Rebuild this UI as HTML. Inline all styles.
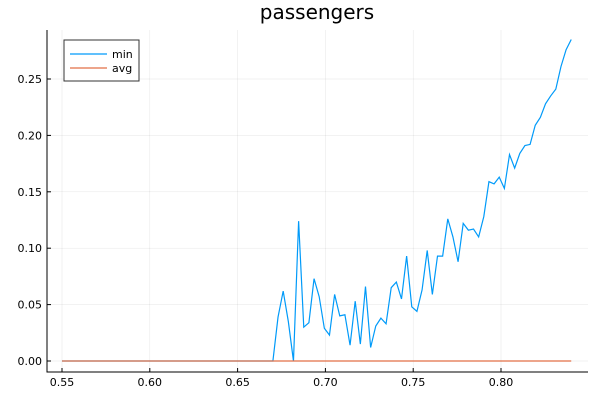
<!DOCTYPE html>
<html><head><meta charset="utf-8"><style>
body{margin:0;background:#fff;}
svg{display:block;font-family:"DejaVu Sans","Liberation Sans",sans-serif;}
</style></head><body>
<svg id="chart" width="600" height="400">
<text x="317" y="19" text-anchor="middle" font-size="20">passengers</text>
<g id="grid"></g><g id="axes"></g><g id="series"></g>
<g>
<rect x="64" y="40" width="75" height="41" fill="#fff" stroke="#333" stroke-width="1"/>
<line x1="70" y1="54" x2="107" y2="54" stroke="#009af9" stroke-width="1.2"/>
<text x="112" y="58" font-size="11">min</text>
<line x1="70" y1="68" x2="107" y2="68" stroke="#e26f46" stroke-width="1.2"/>
<text x="112" y="72" font-size="11">avg</text>
</g>
</svg>
<script>
const xTicks=[0.55,0.60,0.65,0.70,0.75,0.80];
const yTicks=[0.00,0.05,0.10,0.15,0.20,0.25];
const xStart=0.55, xEnd=0.84;
const minValues=[0,0,0,0,0,0,0,0,0,0,0,0,0,0,0,0,0,0,0,0,0,0,0,0,0,0,0,0,0,0,0,0,0,0,0,0,0,0,0,0,0,0,
0.039,0.062,0.035,0,0.124,0.030,0.034,0.073,0.057,0.029,0.023,0.059,0.040,0.041,0.014,0.053,0.015,0.066,0.012,0.031,0.038,0.033,0.065,0.070,0.055,0.093,0.048,0.044,0.063,0.098,0.059,0.093,0.093,0.126,0.110,0.088,
0.122,0.116,0.117,0.110,0.128,0.159,0.157,0.163,0.153,0.183,0.171,0.184,0.191,0.192,0.209,0.216,0.228,0.235,0.241,0.261,0.276,0.285];
const avgValues=minValues.map(()=>0);
const NS="http://www.w3.org/2000/svg";
const xS=v=>62+(v-0.55)/0.25*439;
const yS=v=>361-v/0.25*282;
const xs=minValues.map((_,i)=>xStart+(xEnd-xStart)*i/(minValues.length-1));
function mk(t,a,p){const e=document.createElementNS(NS,t);for(const k in a)e.setAttribute(k,a[k]);p.appendChild(e);return e;}
const grid=document.getElementById('grid'),axes=document.getElementById('axes'),ser=document.getElementById('series');
xTicks.forEach(t=>{const x=xS(t);
const g=mk('line',{x1:x,y1:30,x2:x,y2:372,stroke:'#000','stroke-opacity':0.1,'stroke-width':0.5},grid);


const tk=mk('line',{x1:x,y1:372,x2:x,y2:368,stroke:'#000'},axes);


const l=mk('text',{x:x,y:386,'text-anchor':'middle','font-size':11},axes);l.textContent=t.toFixed(2);

});
yTicks.forEach(t=>{const y=yS(t);
const g=mk('line',{x1:47,y1:y,x2:588,y2:y,stroke:'#000','stroke-opacity':0.1,'stroke-width':0.5},grid);


const tk=mk('line',{x1:47,y1:y,x2:51,y2:y,stroke:'#000'},axes);


const l=mk('text',{x:42,y:y+4,'text-anchor':'end','font-size':11},axes);l.textContent=t.toFixed(2);

});
const ax=mk('path',{d:'M47,30V372H588',fill:'none',stroke:'#000','stroke-width':1},axes);


const pMin=mk('polyline',{points:xs.map((x,i)=>xS(x)+','+yS(minValues[i])).join(' '),fill:'none',stroke:'#009af9','stroke-width':1.2},ser);


const pAvg=mk('polyline',{points:xs.map((x,i)=>xS(x)+','+yS(avgValues[i])).join(' '),fill:'none',stroke:'#e26f46','stroke-width':1.2},ser);


</script>
</body></html>
